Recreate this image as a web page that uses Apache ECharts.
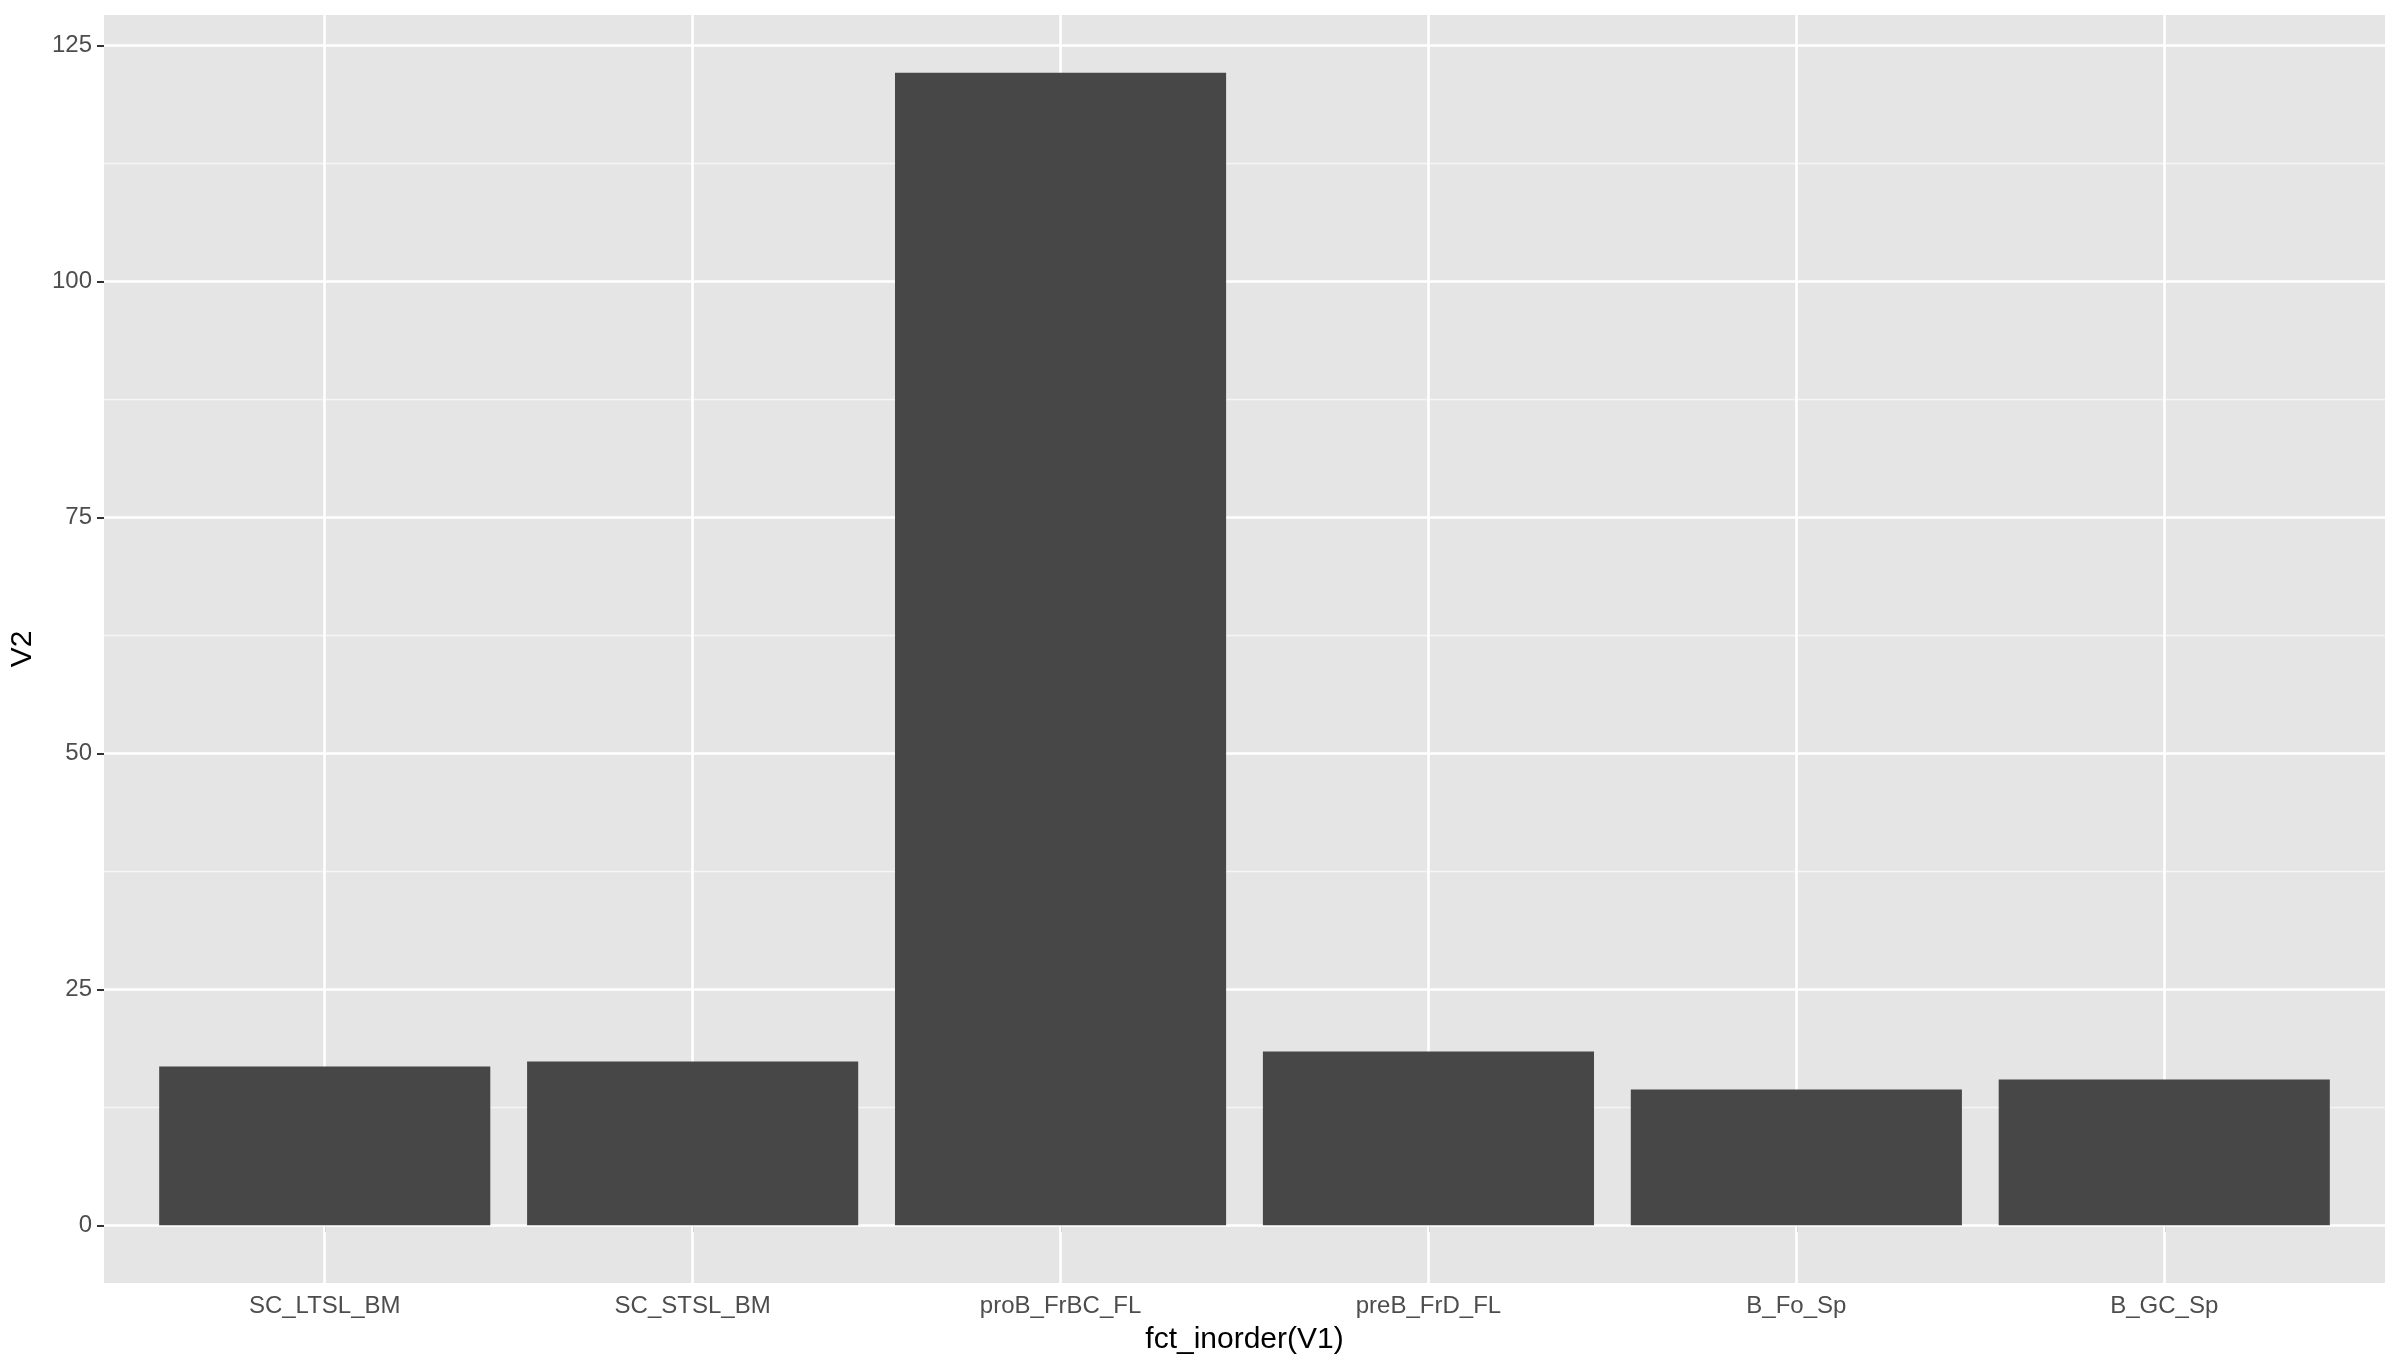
<!DOCTYPE html>
<html>
<head>
<meta charset="utf-8">
<script src="https://cdn.jsdelivr.net/npm/echarts@6/dist/echarts.min.js"></script>
<style>html,body{margin:0;padding:0;background:#fff}#c{width:2400px;height:1368px}</style>
</head>
<body>
<div id="c"></div>
<script>
const categories = ['SC_LTSL_BM','SC_STSL_BM','proB_FrBC_FL','preB_FrD_FL','B_Fo_Sp','B_GC_Sp'];
const values = [16.83, 17.35, 122.1, 18.41, 14.39, 15.45];
const yTicks = [0, 25, 50, 75, 100, 125];
const yMinor = [12.5, 37.5, 62.5, 87.5, 112.5];
const xTitle = 'fct_inorder(V1)';
const yTitle = 'V2';

const positions = categories.map((c, i) => i + 1);
const maxV = Math.max(...values);
const yMin = -0.05 * maxV, yMax = 1.05 * maxV;

const chart = echarts.init(document.getElementById('c'), null, {renderer: 'canvas'});
const font = '"Liberation Sans", Arial, Helvetica, sans-serif';
const gridLines = [];
yMinor.forEach(v => gridLines.push({yAxis: v, lineStyle: {type: 'solid', width: 1.3, color: '#F5F5F5'}}));
yTicks.forEach(v => gridLines.push({yAxis: v, lineStyle: {type: 'solid', width: 2.6, color: '#FFFFFF'}}));
positions.forEach(v => gridLines.push({xAxis: v, lineStyle: {type: 'solid', width: 2.6, color: '#FFFFFF'}}));

chart.setOption({
  animation: false,
  backgroundColor: '#FFFFFF',
  grid: {left: 101, top: 15, width: 2284, height: 1268, show: true, backgroundColor: '#E5E5E5', borderWidth: 0},
  xAxis: {
    type: 'value', min: 0.4, max: 6.6,
    splitLine: {show: false},
    axisLine: {show: false},
    axisTick: {show: true, customValues: positions, length: 7, lineStyle: {color: '#333333', width: 2}},
    axisLabel: {customValues: positions, formatter: v => categories[Math.round(v) - 1], fontSize: 24, color: '#4D4D4D', fontFamily: font, margin: 11},
    name: xTitle, nameLocation: 'middle', nameGap: 42,
    nameTextStyle: {fontSize: 30, color: '#000000', fontFamily: font}
  },
  yAxis: {
    type: 'value', min: yMin, max: yMax,
    splitLine: {show: false},
    axisLine: {show: false},
    axisTick: {show: true, customValues: yTicks, length: 7, lineStyle: {color: '#333333', width: 2}},
    axisLabel: {customValues: yTicks, fontSize: 24, color: '#4D4D4D', fontFamily: font, margin: 12},
    name: yTitle, nameLocation: 'middle', nameGap: 66, nameRotate: 90,
    nameTextStyle: {fontSize: 30, color: '#000000', fontFamily: font}
  },
  series: [
    {
      type: 'line', data: [], z: 1, silent: true,
      markLine: {silent: true, symbol: ['none', 'none'], label: {show: false}, animation: false, data: gridLines}
    },
    {
      type: 'bar', z: 5, barWidth: '90%',
      itemStyle: {color: '#474747'},
      data: positions.map((p, i) => [p, values[i]])
    }
  ]
});
</script>
</body>
</html>
